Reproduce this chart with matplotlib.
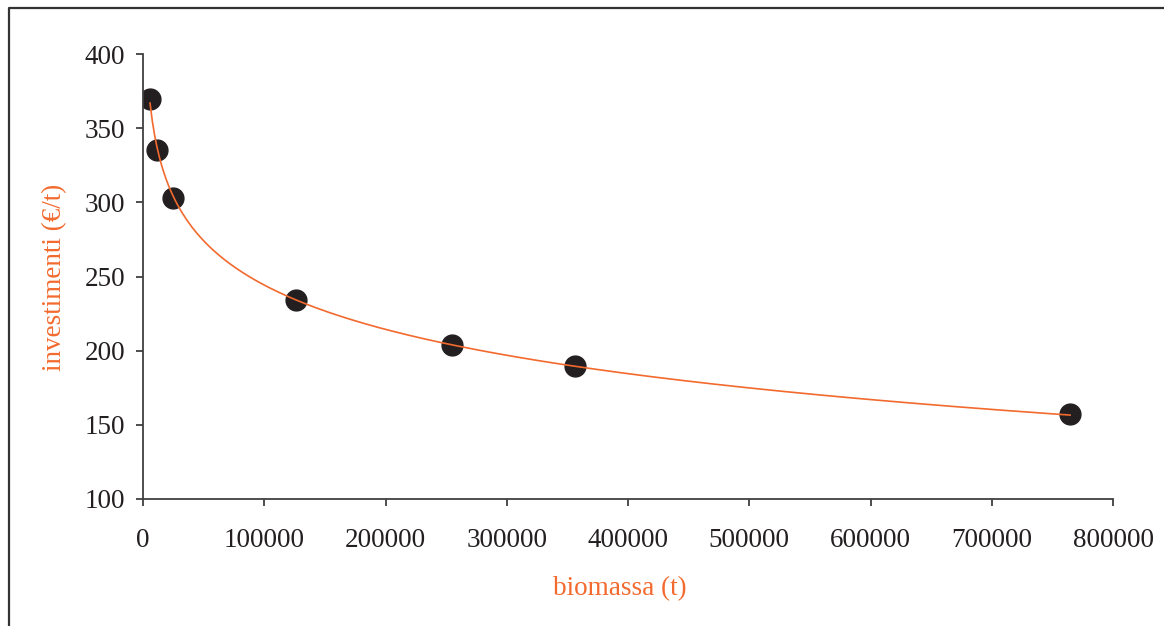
import numpy as np
import matplotlib.pyplot as plt
from matplotlib.lines import Line2D

# dati
biomassa = np.array([5800, 11500, 24700, 126200, 254800, 356200, 764600])
investimenti = np.array([370, 335, 303, 234, 204, 190, 157])

x_ticks = [0, 100000, 200000, 300000, 400000, 500000, 600000, 700000, 800000]
y_ticks = [100, 150, 200, 250, 300, 350, 400]

arancio = '#f26a2e'
nero = '#231f20'

plt.rcParams['font.family'] = ['Liberation Serif', 'DejaVu Serif']

fig = plt.figure(figsize=(11.64, 6.26), dpi=100)
ax = fig.add_axes([143 / 1164, 1 - 499 / 626, 970 / 1164, 445 / 626])

# linea di tendenza logaritmica
b, a = np.polyfit(np.log(biomassa), investimenti, 1)
xt = np.linspace(biomassa.min(), biomassa.max(), 400)
ax.plot(biomassa, investimenti, 'o', color=nero, markersize=15, zorder=2)
ax.plot(xt, a + b * np.log(xt), color=arancio, lw=1.2, zorder=3)

ax.set_xlim(0, 800000)
ax.set_ylim(100, 400)
ax.set_xticks(x_ticks)
ax.set_yticks(y_ticks)
ax.set_xticklabels([str(v) for v in x_ticks])
ax.spines['top'].set_visible(False)
ax.spines['right'].set_visible(False)
for s in ['left', 'bottom']:
    ax.spines[s].set_color('#404040')
    ax.spines[s].set_linewidth(1.3)
ax.tick_params(axis='both', colors='#404040', width=1.3, length=5,
               labelsize=19.5, labelcolor=nero)
ax.tick_params(axis='y', pad=8)
ax.tick_params(axis='x', pad=16)

fig.text(620 / 1164, 1 - 589 / 626, 'biomassa (t)', color=arancio,
         fontsize=19.5, ha='center', va='center')
fig.text(55 / 1164, 1 - 277 / 626, 'investimenti (€/t)', color=arancio,
         fontsize=19.5, ha='center', va='center', rotation=90)

# cornice
fig.add_artist(Line2D([9 / 1164, 9 / 1164, 1], [0, 1 - 8 / 626, 1 - 8 / 626],
                      transform=fig.transFigure, color='#333333', lw=1.6))

fig.savefig('out.png', dpi=100)
